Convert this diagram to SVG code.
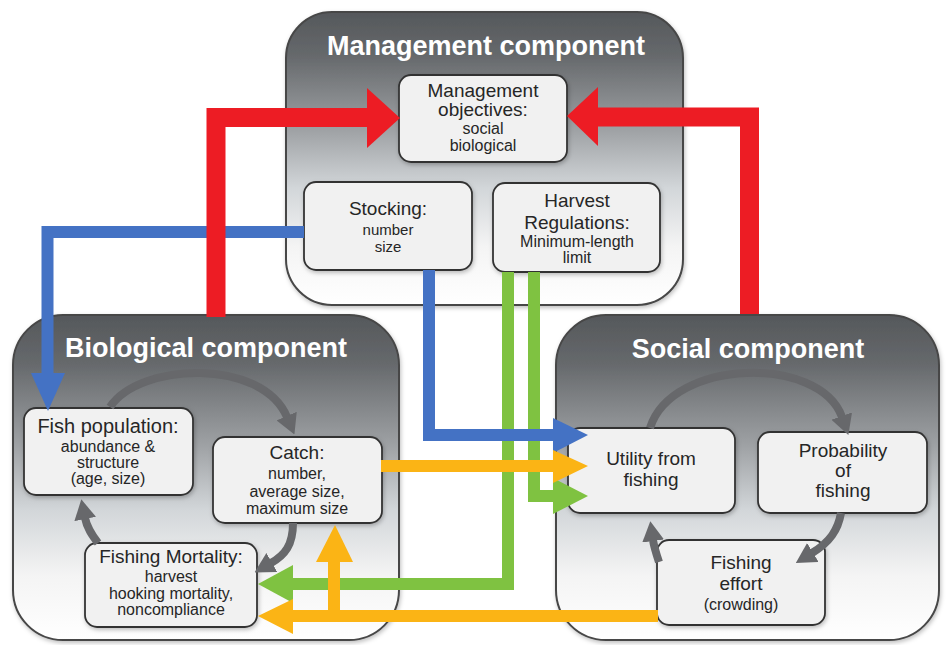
<svg xmlns="http://www.w3.org/2000/svg" width="948" height="645" viewBox="0 0 948 645">
  <defs>
    <linearGradient id="panelFill" x1="0" y1="0" x2="0" y2="1">
      <stop offset="0" stop-color="#55585b"/>
      <stop offset="0.15" stop-color="#66696c"/>
      <stop offset="0.4" stop-color="#9ea1a4"/>
      <stop offset="0.6" stop-color="#d2d6d9"/>
      <stop offset="0.8" stop-color="#f4f4f4"/>
      <stop offset="1" stop-color="#ffffff"/>
    </linearGradient>
    <filter id="soft" x="-10%" y="-10%" width="120%" height="125%">
      <feDropShadow dx="1" dy="2" stdDeviation="2" flood-color="#000" flood-opacity="0.25"/>
    </filter>
    <marker id="cycleHead" viewBox="0 0 20 22" refX="1" refY="11" markerWidth="20" markerHeight="22" markerUnits="userSpaceOnUse" orient="auto">
      <path d="M0,0 L20,11 L0,22 z" fill="#67686b"/>
    </marker>
    <style>
      .panel { fill: url(#panelFill); stroke: #474747; stroke-width: 2; filter: url(#soft); }
      .box { fill: #f1f1f1; stroke: #333; stroke-width: 1.8; filter: url(#soft); }
      .title { font-family: "Liberation Sans", Arial, sans-serif; font-weight: bold; font-size: 27px; fill: #ffffff; text-anchor: middle; }
      .t { font-family: "Liberation Sans", Arial, sans-serif; fill: #262626; text-anchor: middle; }
      .big { font-size: 19px; }
      .small { font-size: 16px; }
      .cycle { fill: none; stroke: #67686b; stroke-width: 8; marker-end: url(#cycleHead); }
      .red { fill: none; stroke: #ed1c24; stroke-width: 19; stroke-linejoin: miter; }
      .blue { fill: none; stroke: #4472c4; stroke-width: 12; stroke-linejoin: miter; }
      .green { fill: none; stroke: #7fc241; stroke-width: 12; stroke-linejoin: miter; }
      .orange { fill: none; stroke: #fbb415; stroke-width: 12; stroke-linejoin: miter; }
      .redHead { fill: #ed1c24; }
      .blueHead { fill: #4472c4; }
      .greenHead { fill: #7fc241; }
      .orangeHead { fill: #fbb415; }
    </style>
  </defs>

  <rect width="948" height="645" fill="#ffffff"/>

  <!-- Management component -->
  <g id="management-component">
    <rect class="panel" x="286" y="12" width="397" height="293" rx="46"/>
    <text class="title" x="486" y="55">Management component</text>
  </g>
  <g id="management-objectives">
    <rect class="box" x="399" y="75" width="168" height="87" rx="12"/>
    <text class="t big" x="483" y="97">Management</text>
    <text class="t big" x="483" y="116">objectives:</text>
    <text class="t small" x="483" y="134">social</text>
    <text class="t small" x="483" y="151">biological</text>
  </g>
  <g id="stocking">
    <rect class="box" x="304" y="182" width="168" height="88" rx="12"/>
    <text class="t big" x="388" y="215">Stocking:</text>
    <text class="t" font-size="15" x="388" y="235">number</text>
    <text class="t" font-size="15" x="388" y="252">size</text>
  </g>
  <g id="harvest-regulations">
    <rect class="box" x="493" y="183" width="167" height="89" rx="12"/>
    <text class="t big" x="577" y="207">Harvest</text>
    <text class="t big" x="577" y="229">Regulations:</text>
    <text class="t small" x="577" y="247">Minimum-length</text>
    <text class="t small" x="577" y="263">limit</text>
  </g>

  <!-- Biological component -->
  <g id="biological-component">
    <rect class="panel" x="13" y="315" width="386" height="325" rx="50"/>
    <text class="title" x="206" y="357">Biological component</text>
  </g>

  <!-- Social component -->
  <g id="social-component">
    <rect class="panel" x="556" y="315" width="383" height="325" rx="50"/>
    <text class="title" x="748" y="358">Social component</text>
  </g>

  <g id="fish-population">
    <rect class="box" x="24" y="408" width="169" height="87" rx="12"/>
    <text class="t" font-size="20" x="108" y="433">Fish population:</text>
    <text class="t small" x="108" y="452">abundance &amp;</text>
    <text class="t small" x="108" y="468">structure</text>
    <text class="t small" x="108" y="484">(age, size)</text>
  </g>
  <g id="catch">
    <rect class="box" x="213" y="437" width="169" height="86" rx="12"/>
    <text class="t big" x="297" y="459">Catch:</text>
    <text class="t small" x="297" y="479">number,</text>
    <text class="t small" x="297" y="497">average size,</text>
    <text class="t small" x="297" y="514">maximum size</text>
  </g>
  <g id="fishing-mortality">
    <rect class="box" x="85" y="543" width="172" height="84" rx="12"/>
    <text class="t big" x="171" y="563">Fishing Mortality:</text>
    <text class="t small" x="171" y="582">harvest</text>
    <text class="t small" x="171" y="599">hooking mortality,</text>
    <text class="t small" x="171" y="615">noncompliance</text>
  </g>

  <g id="utility-from-fishing">
    <rect class="box" x="568" y="428" width="167" height="85" rx="12"/>
    <text class="t big" x="651" y="465">Utility from</text>
    <text class="t big" x="651" y="486">fishing</text>
  </g>
  <g id="probability-of-fishing">
    <rect class="box" x="758" y="432" width="169" height="81" rx="12"/>
    <text class="t big" x="843" y="457">Probability</text>
    <text class="t big" x="843" y="477">of</text>
    <text class="t big" x="843" y="497">fishing</text>
  </g>
  <g id="fishing-effort">
    <rect class="box" x="657" y="540" width="168" height="85" rx="12"/>
    <text class="t big" x="741" y="569">Fishing</text>
    <text class="t big" x="741" y="590">effort</text>
    <text class="t small" x="741" y="610">(crowding)</text>
  </g>

  <!-- Cycle arrows inside the biological and social components -->
  <g id="cycles">
    <path class="cycle" d="M110,407 C140,362 262,358 287,417"/>
    <path class="cycle" d="M293,523 C293,545 285,555 271,563"/>
    <path class="cycle" d="M98,543 C92,535 87,528 85,518"/>
    <path class="cycle" d="M650,428 C672,358 820,355 842,417"/>
    <path class="cycle" d="M841,513 C838,530 830,542 812,553"/>
    <path class="cycle" d="M659,562 C656,553 654,547 653,540"/>
  </g>

  <!-- Links between components -->
  <g id="connectors">
    <!-- green: harvest regulations to utility and to fishing mortality -->
    <path class="green" d="M508,272 V584 H290"/>
    <polygon class="greenHead" points="293,565 293,603 258,584"/>
    <path class="green" d="M534,272 V496 H556"/>
    <polygon class="greenHead" points="553,478 553,514 588,496"/>

    <!-- blue: stocking to fish population and to utility -->
    <path class="blue" d="M304,232 H47.5 V376"/>
    <polygon class="blueHead" points="31,373 65,373 48,411"/>
    <path class="blue" d="M429,270 V435 H556"/>
    <polygon class="blueHead" points="553,418 553,453 588,435"/>

    <!-- orange: catch to utility, effort to mortality and catch -->
    <path class="orange" d="M381,466 H556"/>
    <polygon class="orangeHead" points="553,450 553,483 588,466"/>
    <path class="orange" d="M658,616 H290"/>
    <polygon class="orangeHead" points="293,599 293,634 258,616"/>
    <path class="orange" d="M334,622 V559"/>
    <polygon class="orangeHead" points="316,562 353,562 335,525"/>

    <!-- red: feedback to management objectives -->
    <path class="red" d="M216,317 V117.5 H370"/>
    <polygon class="redHead" points="367,88 367,148 400,118"/>
    <path class="red" d="M749.5,314 V117 H596"/>
    <polygon class="redHead" points="598,87 598,146 567,116"/>
  </g>
</svg>
